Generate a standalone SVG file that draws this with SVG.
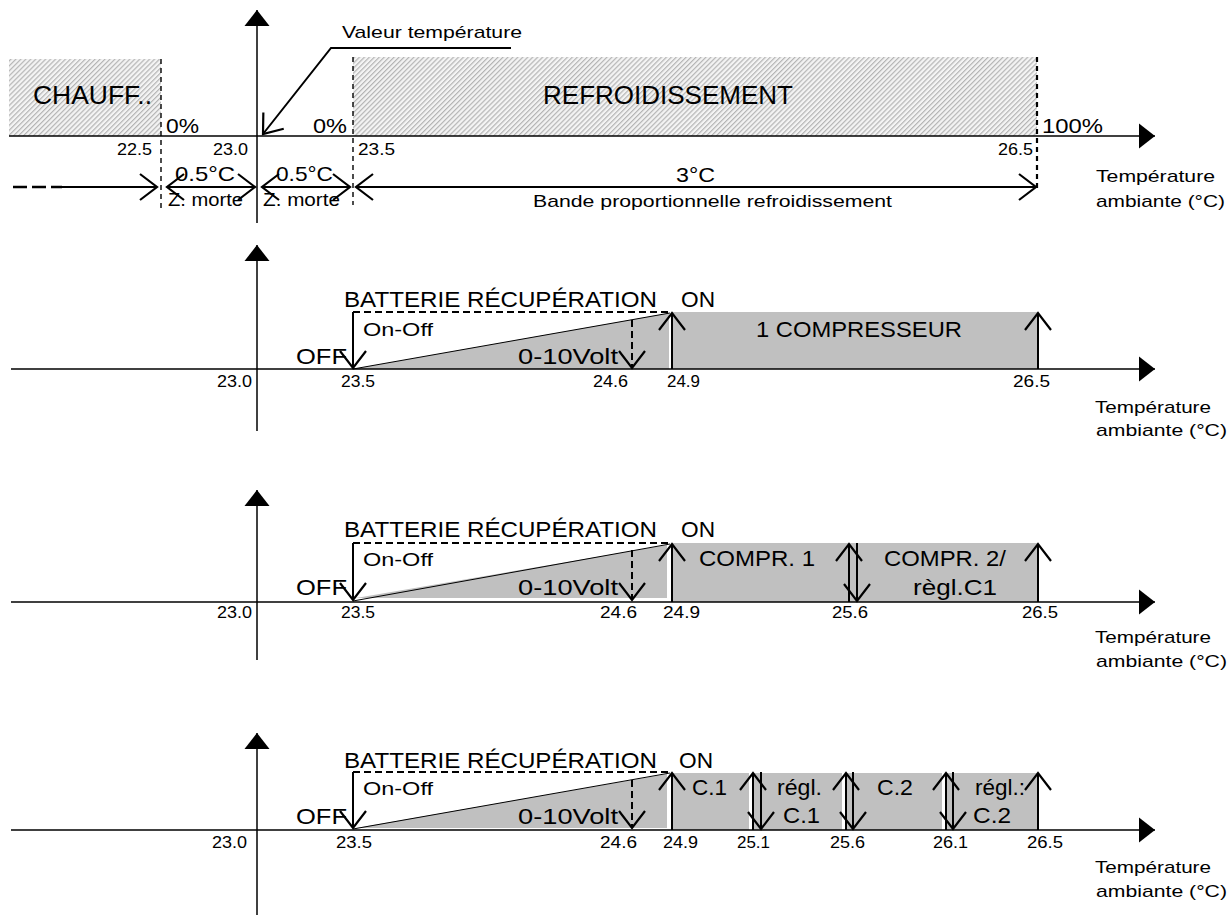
<svg xmlns="http://www.w3.org/2000/svg" width="1230" height="916" viewBox="0 0 1230 916">
<style>
text{font-family:"Liberation Sans",Arial,sans-serif;fill:#000}
.lbl{font-size:16px}
.big{font-size:22px}
.mid{font-size:19px}
.ax{stroke:#000;stroke-width:1.5;fill:none}
.arr{stroke:#000;stroke-width:2;fill:none}
.dsh{stroke:#000;stroke-width:1.4;stroke-dasharray:5 4;fill:none}
.dtop{stroke:#000;stroke-width:2;stroke-dasharray:7 4;fill:none}
.thin{stroke:#000;stroke-width:1;fill:none}
.gray{fill:#c0c0c0}
</style>
<defs>
<pattern id="hatch" patternUnits="userSpaceOnUse" width="3.5" height="3.5" patternTransform="rotate(45)">
<rect width="3.5" height="3.5" fill="#f4f4f4"/>
<rect width="1.2" height="3.5" fill="#b4b4b4"/>
</pattern>
<marker id="v" markerUnits="userSpaceOnUse" markerWidth="40" markerHeight="40" refX="0" refY="0" orient="auto-start-reverse" overflow="visible">
<path d="M-17,-13 L0,0 L-17,13" fill="none" stroke="#000" stroke-width="2.2"/>
</marker>
<marker id="tri" markerUnits="userSpaceOnUse" markerWidth="40" markerHeight="40" refX="0" refY="0" orient="auto" overflow="visible">
<path d="M-16,-12.5 L0,0 L-16,12.5 Z" fill="#000"/>
</marker>
</defs>

<g id="zones">
<rect x="9" y="59" width="152" height="77" fill="url(#hatch)"/>
<rect x="353" y="57" width="684" height="79" fill="url(#hatch)"/>
</g>

<g id="panel2-fill">
<polygon class="gray" points="353,369 669,313 669,369"/>
<rect class="gray" x="672" y="312" width="366" height="57"/>
</g>
<g id="panel3-fill">
<polygon class="gray" points="356,598 667,545 667,598"/>
<rect class="gray" x="672" y="543" width="366" height="59"/>
</g>
<g id="panel4-fill">
<polygon class="gray" points="356,828 667,774 667,828"/>
<rect class="gray" x="672" y="773" width="366" height="57"/>
<rect x="749" y="773" width="3" height="57" fill="#fff"/>
<rect x="842" y="773" width="3" height="57" fill="#fff"/>
<rect x="942" y="773" width="3" height="57" fill="#fff"/>
</g>

<g id="connectors">
<!-- panel 1 -->
<line class="ax" x1="257" y1="223" x2="257" y2="10" marker-end="url(#tri)"/>
<line class="ax" x1="9" y1="136" x2="1155" y2="136" marker-end="url(#tri)"/>
<line class="dsh" x1="161" y1="59" x2="161" y2="208"/>
<line class="dsh" x1="353" y1="57" x2="353" y2="205"/>
<line class="dsh" x1="1037" y1="57" x2="1037" y2="192" style="stroke-width:2.2"/>
<polyline class="arr" points="511,48 331,48 263,134" marker-end="url(#v)"/>
<line x1="13" y1="187" x2="62" y2="187" stroke="#000" stroke-width="2.5" stroke-dasharray="14 5"/>
<line class="arr" x1="62" y1="187" x2="157" y2="187" marker-end="url(#v)"/>
<line class="arr" x1="167" y1="187" x2="255" y2="187" marker-start="url(#v)" marker-end="url(#v)"/>
<line class="arr" x1="262" y1="187" x2="350" y2="187" marker-start="url(#v)" marker-end="url(#v)"/>
<line class="arr" x1="356" y1="187" x2="1036" y2="187" marker-start="url(#v)" marker-end="url(#v)"/>

<!-- panel 2 -->
<line class="ax" x1="257" y1="431" x2="257" y2="245" marker-end="url(#tri)"/>
<line class="ax" x1="11" y1="369" x2="1155" y2="369" marker-end="url(#tri)"/>
<line class="thin" x1="353" y1="369" x2="670" y2="313"/>
<line class="dtop" x1="353" y1="312" x2="669" y2="312"/>
<line class="arr" x1="353" y1="312" x2="353" y2="368" marker-end="url(#v)"/>
<line class="arr" x1="632" y1="320" x2="632" y2="368" stroke-dasharray="7 4" marker-end="url(#v)"/>
<line class="arr" x1="672" y1="369" x2="672" y2="313" marker-end="url(#v)"/>
<line class="arr" x1="1038" y1="369" x2="1038" y2="313" marker-end="url(#v)"/>

<!-- panel 3 -->
<line class="ax" x1="257" y1="660" x2="257" y2="490" marker-end="url(#tri)"/>
<line class="ax" x1="11" y1="602" x2="1155" y2="602" marker-end="url(#tri)"/>
<line class="thin" x1="353" y1="601" x2="670" y2="544"/>
<line class="dtop" x1="353" y1="543" x2="669" y2="543"/>
<line class="arr" x1="353" y1="543" x2="353" y2="600" marker-end="url(#v)"/>
<line class="arr" x1="632" y1="550" x2="632" y2="600" stroke-dasharray="7 4" marker-end="url(#v)"/>
<line class="arr" x1="672" y1="602" x2="672" y2="544" marker-end="url(#v)"/>
<line class="arr" x1="849" y1="602" x2="849" y2="544" marker-end="url(#v)"/>
<line class="arr" x1="857" y1="543" x2="857" y2="601" marker-end="url(#v)"/>
<line class="arr" x1="1038" y1="602" x2="1038" y2="544" marker-end="url(#v)"/>

<!-- panel 4 -->
<line class="ax" x1="257" y1="915" x2="257" y2="733" marker-end="url(#tri)"/>
<line class="ax" x1="11" y1="830" x2="1155" y2="830" marker-end="url(#tri)"/>
<line class="thin" x1="353" y1="829" x2="670" y2="773"/>
<line class="dtop" x1="353" y1="772" x2="669" y2="772"/>
<line class="arr" x1="353" y1="772" x2="353" y2="828" marker-end="url(#v)"/>
<line class="arr" x1="632" y1="780" x2="632" y2="828" stroke-dasharray="7 4" marker-end="url(#v)"/>
<line class="arr" x1="672" y1="830" x2="672" y2="773" marker-end="url(#v)"/>
<line class="arr" x1="753" y1="830" x2="753" y2="773" marker-end="url(#v)"/>
<line class="arr" x1="761" y1="772" x2="761" y2="829" marker-end="url(#v)"/>
<line class="arr" x1="846" y1="830" x2="846" y2="773" marker-end="url(#v)"/>
<line class="arr" x1="853" y1="772" x2="853" y2="829" marker-end="url(#v)"/>
<line class="arr" x1="946" y1="830" x2="946" y2="773" marker-end="url(#v)"/>
<line class="arr" x1="953" y1="772" x2="953" y2="829" marker-end="url(#v)"/>
<line class="arr" x1="1038" y1="830" x2="1038" y2="773" marker-end="url(#v)"/>
</g>

<g id="panel1-text">
<text x="342" y="38" style="font-size:17px" textLength="180" lengthAdjust="spacingAndGlyphs">Valeur température</text>
<text x="33" y="104" style="font-size:26px" textLength="119" lengthAdjust="spacingAndGlyphs">CHAUFF..</text>
<text x="543" y="104" style="font-size:26px" textLength="250" lengthAdjust="spacingAndGlyphs">REFROIDISSEMENT</text>
<text x="166" y="133" style="font-size:21px" textLength="33" lengthAdjust="spacingAndGlyphs">0%</text>
<text x="313" y="133" style="font-size:21px" textLength="34" lengthAdjust="spacingAndGlyphs">0%</text>
<text x="1042" y="133" style="font-size:21px" textLength="61" lengthAdjust="spacingAndGlyphs">100%</text>
<text class="lbl" x="117" y="155" textLength="35" lengthAdjust="spacingAndGlyphs">22.5</text>
<text class="lbl" x="213" y="155" textLength="35" lengthAdjust="spacingAndGlyphs">23.0</text>
<text class="lbl" x="358" y="155" textLength="37" lengthAdjust="spacingAndGlyphs">23.5</text>
<text class="lbl" x="998" y="155" textLength="35" lengthAdjust="spacingAndGlyphs">26.5</text>
<text x="175" y="181" style="font-size:21px" textLength="60" lengthAdjust="spacingAndGlyphs">0.5°C</text>
<text x="276" y="181" style="font-size:21px" textLength="57" lengthAdjust="spacingAndGlyphs">0.5°C</text>
<text x="168" y="206" style="font-size:18px" textLength="75" lengthAdjust="spacingAndGlyphs">Z. morte</text>
<text x="263" y="206" style="font-size:18px" textLength="77" lengthAdjust="spacingAndGlyphs">Z. morte</text>
<text x="676" y="182" style="font-size:21px" textLength="39" lengthAdjust="spacingAndGlyphs">3°C</text>
<text x="533" y="207" style="font-size:17px" textLength="359" lengthAdjust="spacingAndGlyphs">Bande proportionnelle refroidissement</text>
<text x="1096" y="182" style="font-size:17px" textLength="119" lengthAdjust="spacingAndGlyphs">Température</text>
<text x="1096" y="207" style="font-size:17px" textLength="129" lengthAdjust="spacingAndGlyphs">ambiante (°C)</text>
</g>

<g id="panel2-text">
<text class="big" x="344" y="307" textLength="313" lengthAdjust="spacingAndGlyphs">BATTERIE RÉCUPÉRATION</text>
<text class="big" x="681" y="307" textLength="34" lengthAdjust="spacingAndGlyphs">ON</text>
<text class="mid" x="363" y="336" textLength="70" lengthAdjust="spacingAndGlyphs">On-Off</text>
<text class="big" x="296" y="364" textLength="51" lengthAdjust="spacingAndGlyphs">OFF</text>
<text class="big" x="518" y="364" textLength="100" lengthAdjust="spacingAndGlyphs">0-10Volt</text>
<text class="big" x="756" y="337" textLength="206" lengthAdjust="spacingAndGlyphs">1 COMPRESSEUR</text>
<text class="lbl" x="217" y="387" textLength="35" lengthAdjust="spacingAndGlyphs">23.0</text>
<text class="lbl" x="341" y="387" textLength="34" lengthAdjust="spacingAndGlyphs">23.5</text>
<text class="lbl" x="593" y="387" textLength="35" lengthAdjust="spacingAndGlyphs">24.6</text>
<text class="lbl" x="667" y="387" textLength="33" lengthAdjust="spacingAndGlyphs">24.9</text>
<text class="lbl" x="1013" y="387" textLength="37" lengthAdjust="spacingAndGlyphs">26.5</text>
<text x="1095" y="413" style="font-size:17px" textLength="116" lengthAdjust="spacingAndGlyphs">Température</text>
<text x="1096" y="436" style="font-size:17px" textLength="131" lengthAdjust="spacingAndGlyphs">ambiante (°C)</text>
</g>

<g id="panel3-text">
<text class="big" x="344" y="537" textLength="313" lengthAdjust="spacingAndGlyphs">BATTERIE RÉCUPÉRATION</text>
<text class="big" x="681" y="537" textLength="34" lengthAdjust="spacingAndGlyphs">ON</text>
<text class="mid" x="363" y="566" textLength="70" lengthAdjust="spacingAndGlyphs">On-Off</text>
<text class="big" x="296" y="595" textLength="51" lengthAdjust="spacingAndGlyphs">OFF</text>
<text class="big" x="518" y="595" textLength="100" lengthAdjust="spacingAndGlyphs">0-10Volt</text>
<text class="big" x="699" y="566" textLength="116" lengthAdjust="spacingAndGlyphs">COMPR. 1</text>
<text class="big" x="884" y="566" textLength="122" lengthAdjust="spacingAndGlyphs">COMPR. 2/</text>
<text class="big" x="913" y="595" textLength="84" lengthAdjust="spacingAndGlyphs">règl.C1</text>
<text class="lbl" x="217" y="618" textLength="35" lengthAdjust="spacingAndGlyphs">23.0</text>
<text class="lbl" x="341" y="618" textLength="34" lengthAdjust="spacingAndGlyphs">23.5</text>
<text class="lbl" x="600" y="618" textLength="37" lengthAdjust="spacingAndGlyphs">24.6</text>
<text class="lbl" x="663" y="618" textLength="37" lengthAdjust="spacingAndGlyphs">24.9</text>
<text class="lbl" x="832" y="618" textLength="36" lengthAdjust="spacingAndGlyphs">25.6</text>
<text class="lbl" x="1022" y="618" textLength="36" lengthAdjust="spacingAndGlyphs">26.5</text>
<text x="1095" y="643" style="font-size:17px" textLength="116" lengthAdjust="spacingAndGlyphs">Température</text>
<text x="1096" y="667" style="font-size:17px" textLength="131" lengthAdjust="spacingAndGlyphs">ambiante (°C)</text>
</g>

<g id="panel4-text">
<text class="big" x="344" y="768" textLength="313" lengthAdjust="spacingAndGlyphs">BATTERIE RÉCUPÉRATION</text>
<text class="big" x="679" y="768" textLength="34" lengthAdjust="spacingAndGlyphs">ON</text>
<text class="mid" x="363" y="795" textLength="70" lengthAdjust="spacingAndGlyphs">On-Off</text>
<text class="big" x="296" y="824" textLength="51" lengthAdjust="spacingAndGlyphs">OFF</text>
<text class="big" x="518" y="824" textLength="100" lengthAdjust="spacingAndGlyphs">0-10Volt</text>
<text class="big" x="692" y="795" textLength="35" lengthAdjust="spacingAndGlyphs">C.1</text>
<text class="big" x="777" y="795" textLength="45" lengthAdjust="spacingAndGlyphs">régl.</text>
<text class="big" x="783" y="823" textLength="37" lengthAdjust="spacingAndGlyphs">C.1</text>
<text class="big" x="877" y="795" textLength="36" lengthAdjust="spacingAndGlyphs">C.2</text>
<text class="big" x="975" y="795" textLength="50" lengthAdjust="spacingAndGlyphs">régl.:</text>
<text class="big" x="973" y="823" textLength="38" lengthAdjust="spacingAndGlyphs">C.2</text>
<text class="lbl" x="212" y="848" textLength="35" lengthAdjust="spacingAndGlyphs">23.0</text>
<text class="lbl" x="336" y="848" textLength="36" lengthAdjust="spacingAndGlyphs">23.5</text>
<text class="lbl" x="600" y="848" textLength="37" lengthAdjust="spacingAndGlyphs">24.6</text>
<text class="lbl" x="663" y="848" textLength="35" lengthAdjust="spacingAndGlyphs">24.9</text>
<text class="lbl" x="737" y="848" textLength="33" lengthAdjust="spacingAndGlyphs">25.1</text>
<text class="lbl" x="830" y="848" textLength="35" lengthAdjust="spacingAndGlyphs">25.6</text>
<text class="lbl" x="933" y="848" textLength="35" lengthAdjust="spacingAndGlyphs">26.1</text>
<text class="lbl" x="1027" y="848" textLength="36" lengthAdjust="spacingAndGlyphs">26.5</text>
<text x="1095" y="873" style="font-size:17px" textLength="116" lengthAdjust="spacingAndGlyphs">Température</text>
<text x="1096" y="897" style="font-size:17px" textLength="131" lengthAdjust="spacingAndGlyphs">ambiante (°C)</text>
</g>
</svg>
